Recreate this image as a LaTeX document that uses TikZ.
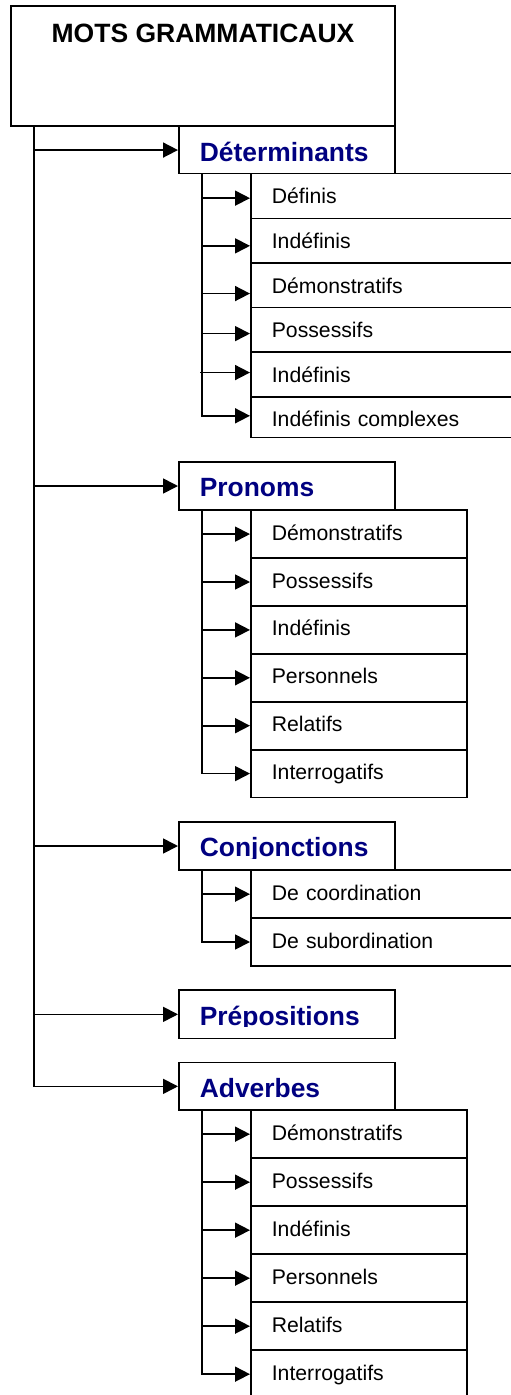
\documentclass[tikz,border=0pt]{standalone}
\usepackage{fontspec}
\setmainfont{Liberation Sans}
\usetikzlibrary{arrows.meta}
\definecolor{catblue}{RGB}{0,0,128}
\begin{document}
\begin{tikzpicture}[x=1pt,y=-1pt,line width=1.7pt,
        arr/.style={-{Triangle[length=15pt,width=15pt]}},
        titlebox/.style={draw,anchor=north west,inner sep=0pt,minimum width=384.3pt,
            text height=36.7pt,text depth=83.3pt,font=\fontsize{26.5}{30}\selectfont\bfseries},
        catbox/.style={draw,anchor=north west,inner ysep=0pt,inner xsep=21pt,text width=174.3pt,
            align=left,text height=35pt,text depth=13.3pt,text=catblue,
            font=\fontsize{26.4}{30}\selectfont\bfseries},
        subbox/.style={draw,anchor=north west,inner ysep=0pt,inner xsep=21pt,text width=174.3pt,
            align=left,text height=30pt,text depth=17.9pt,font=\fontsize{21.2}{25}\selectfont},
        widebox/.style={subbox,text width=248pt}]
    \clip (0,0) rectangle (511,1395);

    % Title
    \node [titlebox] (title) at (10,5) {MOTS GRAMMATICAUX};
    \coordinate (mt) at ([xshift=24pt]title.south west);

    % Determinants
    \node [catbox,text depth=12pt] (det) at (178,125.7) {Déterminants};
    \node [widebox,text depth=15pt] (det1) at (250,172.7) {Définis};
    \node [widebox,text depth=14.6pt] (det2) at (250,217.7) {Indéfinis};
    \node [widebox,text depth=14.4pt] (det3) at (250,262.3) {Démonstratifs};
    \node [widebox,text depth=14.7pt] (det4) at (250,306.7) {Possessifs};
    \node [widebox,text depth=14.6pt] (det5) at (250,351.4) {Indéfinis};
    \begin{scope}[even odd rule]
        \clip (0,0) rectangle (511,1395) (252,426.2) rectangle (509,435.5);
        \node [widebox,text depth=10.7pt] (det6) at (250,396) {Indéfinis complexes};
    \end{scope}
    \coordinate (dt) at ([xshift=24pt]det.south west);
    \draw [arr] ([xshift=-48pt,yshift=-2.1pt]det1.west) -- ([yshift=-2.1pt]det1.west);
    \draw [arr] ([xshift=-48pt,yshift=-5pt]det2.west) -- ([yshift=-5pt]det2.west);
    \draw [arr] ([xshift=-48pt,yshift=-8.2pt]det3.west) -- ([yshift=-8.2pt]det3.west);
    \draw [arr] ([xshift=-48pt,yshift=-3.7pt]det4.west) -- ([yshift=-3.7pt]det4.west);
    \draw [arr] ([xshift=-50pt,yshift=2pt]det5.west) -- ([yshift=2pt]det5.west);
    \draw [arr] (dt) |- ([yshift=1.4pt]det6.west);

    % Pronoms
    \node [catbox] (pro) at (178,461) {Pronoms};
    \node [subbox] (pro1) at (250,509.3) {Démonstratifs};
    \node [subbox] (pro2) at (250,557.2) {Possessifs};
    \node [subbox] (pro3) at (250,605.1) {Indéfinis};
    \node [subbox] (pro4) at (250,653) {Personnels};
    \node [subbox] (pro5) at (250,700.9) {Relatifs};
    \node [subbox] (pro6) at (250,748.8) {Interrogatifs};
    \coordinate (pt) at ([xshift=24pt]pro.south west);
    \draw [arr] (pt |- pro1.west) -- (pro1.west);
    \draw [arr] (pt |- pro2.west) -- (pro2.west);
    \draw [arr] (pt |- pro3.west) -- (pro3.west);
    \draw [arr] (pt |- pro4.west) -- (pro4.west);
    \draw [arr] (pt |- pro5.west) -- (pro5.west);
    \draw [arr] (pt) |- (pro6.west);

    % Conjonctions
    \begin{scope}[even odd rule]
        \clip (0,0) rectangle (511,1395) (180,858.3) rectangle (392.3,867.8);
        \node [catbox] (conj) at (178,821) {Conjonctions};
    \end{scope}
    \node [widebox,text depth=18pt] (conj1) at (250,869.3) {De coordination};
    \node [widebox,text depth=17.7pt] (conj2) at (250,917.3) {De subordination};
    \coordinate (ct) at ([xshift=24pt]conj.south west);
    \draw [arr] (ct |- conj1.west) -- (conj1.west);
    \draw [arr] (ct) |- (conj2.west);

    % Prepositions
    \begin{scope}[even odd rule]
        \clip (0,0) rectangle (511,1395) (180,1026) rectangle (392.3,1035.8);
        \node [catbox,text depth=13.4pt] (prep) at (178,989.3) {Prépositions};
    \end{scope}

    % Adverbes
    \node [catbox,text depth=12.6pt] (adv) at (178,1061.7) {Adverbes};
    \node [subbox,text depth=18pt] (adv1) at (250,1109.3) {Démonstratifs};
    \node [subbox,text depth=18pt] (adv2) at (250,1157.3) {Possessifs};
    \node [subbox,text depth=18pt] (adv3) at (250,1205.3) {Indéfinis};
    \node [subbox,text depth=18pt] (adv4) at (250,1253.3) {Personnels};
    \node [subbox,text depth=18pt] (adv5) at (250,1301.3) {Relatifs};
    \node [subbox,text depth=18pt] (adv6) at (250,1349.3) {Interrogatifs};
    \coordinate (at) at ([xshift=24pt]adv.south west);
    \draw [arr] (at |- adv1.west) -- (adv1.west);
    \draw [arr] (at |- adv2.west) -- (adv2.west);
    \draw [arr] (at |- adv3.west) -- (adv3.west);
    \draw [arr] (at |- adv4.west) -- (adv4.west);
    \draw [arr] (at |- adv5.west) -- (adv5.west);
    \draw [arr] (at) |- (adv6.west);

    % Main branches
    \draw [arr] (mt |- det.west) -- (det.west);
    \draw [arr] (mt |- pro.west) -- (pro.west);
    \draw [arr] (mt |- conj.west) -- (conj.west);
    \draw [arr] (mt |- prep.west) -- (prep.west);
    \draw [arr] (mt) |- (adv.west);
\end{tikzpicture}
\end{document}
